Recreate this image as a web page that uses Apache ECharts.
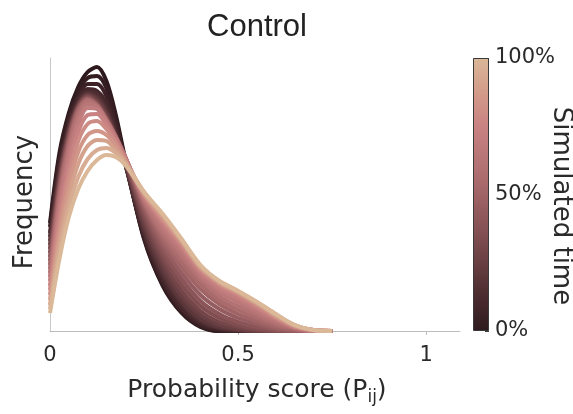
<!DOCTYPE html>
<html>
<head>
<meta charset="utf-8">
<script src="https://cdn.jsdelivr.net/npm/echarts@6/dist/echarts.min.js"></script>
<style>
html,body{margin:0;padding:0;background:#fff;}
#main{width:573px;height:414px;}
</style>
</head>
<body>
<div id="main"></div>
<script>
// ---- data (frequency in plot units) ----
var xValues = [0, 0.025, 0.05, 0.075, 0.1, 0.125, 0.15, 0.175, 0.2, 0.25, 0.3, 0.35, 0.4, 0.45, 0.5, 0.55, 0.6, 0.65, 0.7, 0.75];
var timeFractions = [0, 0.03, 0.06, 0.1, 0.15, 0.2, 0.25, 0.3, 0.35, 0.4, 0.45, 0.5, 0.55, 0.6, 0.65, 0.7, 0.75, 0.8, 0.85, 0.9, 0.95, 1.0];
var curve000 = [108, 178, 218, 244, 259, 264, 250, 216, 172, 92, 45, 18, 4, 0, 0, 0, 0, 0, 0, 0];
var curve003 = [104, 174, 214, 240, 253, 255, 243, 212, 170, 93, 46, 19, 5, 0, 0, 0, 0, 0, 0, 0];
var curve006 = [98, 168, 210, 235, 247, 247, 235, 206, 168, 95, 49, 21, 6, 1, 0, 0, 0, 0, 0, 0];
var curve010 = [94, 164, 206, 232, 242, 240, 228, 201, 167, 97, 52, 23, 8, 2, 0, 0, 0, 0, 0, 0];
var curve015 = [90, 160, 203, 229, 239, 236, 222, 197, 167, 100, 56, 27, 10, 3, 1, 0, 0, 0, 0, 0];
var curve020 = [86, 156, 201, 227, 237, 233, 219, 195, 168, 104, 60, 30, 12, 4, 1, 0, 0, 0, 0, 0];
var curve025 = [82, 153, 199, 226, 236, 231, 216, 194, 169, 108, 65, 35, 16, 6, 2, 0, 0, 0, 0, 0];
var curve030 = [78, 150, 197, 225, 235, 229, 214, 194, 170, 112, 70, 40, 20, 9, 4, 1, 0, 0, 0, 0];
var curve035 = [74, 147, 195, 224, 234, 228, 213, 194, 171, 116, 75, 46, 25, 13, 6, 2, 0, 0, 0, 0];
var curve040 = [70, 144, 193, 223, 233, 227, 212, 194, 172, 120, 80, 52, 30, 17, 9, 4, 1, 0, 0, 0];
var curve045 = [66, 142, 191, 222, 232, 226, 212, 194, 173, 123, 85, 58, 36, 22, 13, 7, 2, 0, 0, 0];
var curve050 = [62, 139, 189, 221, 232, 226, 211, 194, 174, 126, 90, 64, 42, 27, 17, 10, 4, 1, 0, 0];
var curve055 = [58, 135, 186, 219, 231, 225, 211, 194, 174, 128, 94, 69, 47, 31, 21, 13, 6, 2, 0, 0];
var curve060 = [54, 131, 183, 216, 230, 225, 211, 194, 174, 130, 98, 74, 52, 35, 25, 16, 8, 3, 0, 0];
var curve065 = [50, 126, 178, 212, 227, 224, 210, 193, 174, 132, 102, 78, 55, 39, 29, 19, 10, 3, 0, 0];
var curve070 = [45, 121, 173, 207, 223, 222, 209, 192, 173, 134, 106, 82, 58, 42, 32, 22, 12, 4, 0, 0];
var curve075 = [41, 114, 165, 199, 216, 217, 206, 190, 172, 135, 109, 85, 60, 45, 35, 24, 13, 4, 1, 0];
var curve080 = [36, 106, 156, 190, 207, 210, 202, 188, 171, 136, 111, 87, 62, 47, 37, 26, 14, 5, 1, 0];
var curve085 = [31, 98, 146, 179, 196, 200, 196, 185, 170, 137, 113, 89, 63, 48, 38, 27, 15, 5, 1, 0];
var curve090 = [26, 90, 135, 167, 185, 191, 190, 181, 169, 138, 115, 90, 64, 49, 39, 28, 16, 6, 1, 0];
var curve095 = [22, 81, 124, 154, 172, 181, 183, 178, 168, 139, 116, 91, 65, 50, 40, 29, 17, 6, 1, 0];
var curve100 = [18, 72, 114, 142, 160, 171, 176, 174, 166, 139, 117, 92, 66, 50, 40, 29, 17, 6, 1, 0];
var curves = [curve000, curve003, curve006, curve010, curve015, curve020, curve025, curve030, curve035, curve040, curve045,
              curve050, curve055, curve060, curve065, curve070, curve075, curve080, curve085, curve090, curve095, curve100];
var xTicks = [0, 0.5, 1];
var colorbarTicks = [0, 50, 100];

// ---- colormap (style) ----
var cmapStops = [
  [0.00, [46, 26, 30]],
  [0.15, [80, 47, 51]],
  [0.35, [128, 78, 81]],
  [0.55, [170, 107, 109]],
  [0.75, [201, 130, 130]],
  [0.88, [211, 156, 138]],
  [1.00, [218, 184, 152]]
];
function cmap(t) {
  for (var i = 0; i < cmapStops.length - 1; i++) {
    var a = cmapStops[i], b = cmapStops[i + 1];
    if (t <= b[0]) {
      var f = (t - a[0]) / (b[0] - a[0]);
      var c = [0, 1, 2].map(function (k) { return Math.round(a[1][k] + f * (b[1][k] - a[1][k])); });
      return 'rgb(' + c.join(',') + ')';
    }
  }
  var l = cmapStops[cmapStops.length - 1][1];
  return 'rgb(' + l.join(',') + ')';
}

var series = [];
for (var s = 0; s < curves.length; s++) {
  var pts = xValues.map(function (x, i) { return [x, curves[s][i]]; });
  series.push({
    type: 'line',
    xAxisIndex: 0, yAxisIndex: 0,
    data: pts,
    smooth: 0.3,
    showSymbol: false,
    silent: true,
    lineStyle: { width: 4, color: cmap(timeFractions[s]) },
    z: 2
  });
}
var gradStops = [];
for (var g = 0; g <= 20; g++) {
  gradStops.push({ offset: g / 20, color: cmap(1 - g / 20) });
}
series.push({
  type: 'bar',
  xAxisIndex: 1, yAxisIndex: 1,
  data: [100],
  barWidth: '100%',
  silent: true,
  itemStyle: {
    color: new echarts.graphic.LinearGradient(0, 0, 0, 1, gradStops),
    borderColor: '#3a3a3a',
    borderWidth: 1
  }
});

var chart = echarts.init(document.getElementById('main'), null, { renderer: 'canvas' });
chart.setOption({
  animation: false,
  backgroundColor: '#ffffff',
  grid: [
    { left: 50, top: 58, width: 410, height: 273 },
    { left: 473, top: 58, width: 16, height: 273 }
  ],
  xAxis: [
    {
      type: 'value', gridIndex: 0, min: 0, max: 1.09, interval: 0.5,
      axisLine: { show: true, lineStyle: { color: '#bdbdbd', width: 1 } },
      axisTick: { show: true, length: 4, customValues: [0.5, 1], lineStyle: { color: '#bdbdbd' } },
      axisLabel: {
        customValues: xTicks, margin: 14, fontSize: 21, color: '#2a2a2a',
        fontFamily: 'DejaVu Sans',
        formatter: function (v) { return String(v); }
      },
      splitLine: { show: false }
    },
    {
      type: 'category', gridIndex: 1, data: [''],
      show: false
    }
  ],
  yAxis: [
    {
      type: 'value', gridIndex: 0, min: 0, max: 273,
      axisLine: { show: true, lineStyle: { color: '#c8c8c8', width: 1 } },
      axisTick: { show: false },
      axisLabel: { show: false },
      splitLine: { show: false }
    },
    {
      type: 'value', gridIndex: 1, min: 0, max: 100, interval: 10, position: 'right',
      axisLine: { show: false },
      axisTick: { show: true, inside: true, length: 4, lineStyle: { color: '#3a3a3a', width: 1 } },
      axisLabel: {
        customValues: colorbarTicks, margin: 6, fontSize: 21, color: '#2a2a2a',
        fontFamily: 'DejaVu Sans',
        formatter: function (v) { return v + '%'; }
      },
      splitLine: { show: false }
    }
  ],
  series: series,
  graphic: [
    {
      type: 'text', x: 257, y: 27,
      style: { text: 'Control', font: '31px "Liberation Sans"', fill: '#222', textAlign: 'center', textVerticalAlign: 'middle' }
    },
    {
      type: 'text', x: 25, y: 202, rotation: Math.PI / 2,
      style: { text: 'Frequency', font: '26px "DejaVu Sans"', fill: '#2a2a2a', textAlign: 'center', textVerticalAlign: 'middle' }
    },
    {
      type: 'text', x: 561, y: 206, rotation: -Math.PI / 2,
      style: { text: 'Simulated time', font: '26px "DejaVu Sans"', fill: '#2a2a2a', textAlign: 'center', textVerticalAlign: 'middle' }
    },
    {
      type: 'text', x: 257, y: 390,
      style: {
        text: '{m|Probability score (P}{s|ij}{m|)}',
        textAlign: 'center', textVerticalAlign: 'middle',
        rich: {
          m: { fontFamily: 'DejaVu Sans', fontSize: 25, fill: '#2a2a2a', color: '#2a2a2a', lineHeight: 30 },
          s: { fontFamily: 'DejaVu Sans', fontSize: 17, fill: '#2a2a2a', color: '#2a2a2a', lineHeight: 30, padding: [16, 0, 0, 0] }
        }
      }
    }
  ]
});
</script>
</body>
</html>
